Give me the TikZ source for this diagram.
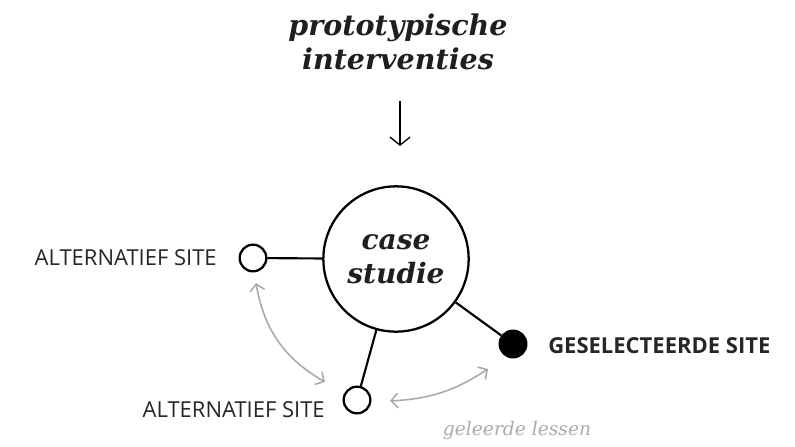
\documentclass[tikz,border=0pt]{standalone}
\usepackage{fontspec}
\setmainfont{DejaVu Serif}
\setsansfont{Open Sans}
\usetikzlibrary{arrows.meta}
\usetikzlibrary{positioning}
\newcommand{\sitename}[2]{\node(#1)[sitetext]{#2}}

\begin{document}
\begin{tikzpicture}[
        x=0.75pt, y=-0.75pt,
        every node/.style={inner sep=0pt},
        title/.style={font=\fontsize{21.4}{26}\selectfont\bfseries\itshape,
                      align=center, text=black!88},
        hub/.style={circle, draw=black, line width=1.7pt, minimum size=109pt,
                    font=\fontsize{21}{25.5}\selectfont\bfseries\itshape,
                    align=center, text=black!88},
        site/.style={circle, draw=black, line width=1.7pt, minimum size=20pt},
        sitetext/.style={font=\sffamily\fontsize{16.5}{18}\selectfont, text=black!85},
        link/.style={line width=1.6pt},
        lesson/.style={draw=black!33, line width=1.2pt,
                       {Straight Barb[length=5pt,width=11pt]}-{Straight Barb[length=5pt,width=11pt]}}
      ]
      \useasboundingbox (0,0) rectangle (795,446);

      % title and arrow
      \node(proto)[title] at (398,42) {prototypische\\interventies};
      \coordinate (downtop) at (400,101);
      \coordinate (downtip) at (400,146);
      \draw[line width=1pt, -{Straight Barb[length=6pt,width=15pt]}] (downtop) -- (downtip);

      % sites
      \node(case)[hub] at (396,259) {case\\studie};
      \node(alt1)[site] at (253,258) {};
      \node(alt2)[site] at (357,400) {};
      \node(sel)[site, fill=black] at (513,344) {};
      \draw[link] (alt1) -- (case);
      \draw[link] (alt2) -- (case);
      \draw[link] (sel) -- (case);

      \node(alt1text)[sitetext, anchor=east] at (217,258) {ALTERNATIEF SITE};
      \node(alt2text)[sitetext, anchor=east] at (325,410) {ALTERNATIEF SITE};
      \node(seltext)[sitetext, anchor=west, font=\sffamily\bfseries\fontsize{16.5}{18}\selectfont] at (548,346) {GESELECTEERDE SITE};

      % lessons learned
      \coordinate (les1) at (256,283);
      \coordinate (les2) at (325,382);
      \coordinate (les3) at (390,401);
      \coordinate (les4) at (488,369);
      \draw[lesson] (les1) to[bend right=25] (les2);
      \draw[lesson] (les3) to[bend right=15] (les4);
      \node(lessons)[font=\itshape\fontsize{14}{16}\selectfont, text=black!33] at (517,430) {geleerde lessen};
    \end{tikzpicture}
\end{document}
